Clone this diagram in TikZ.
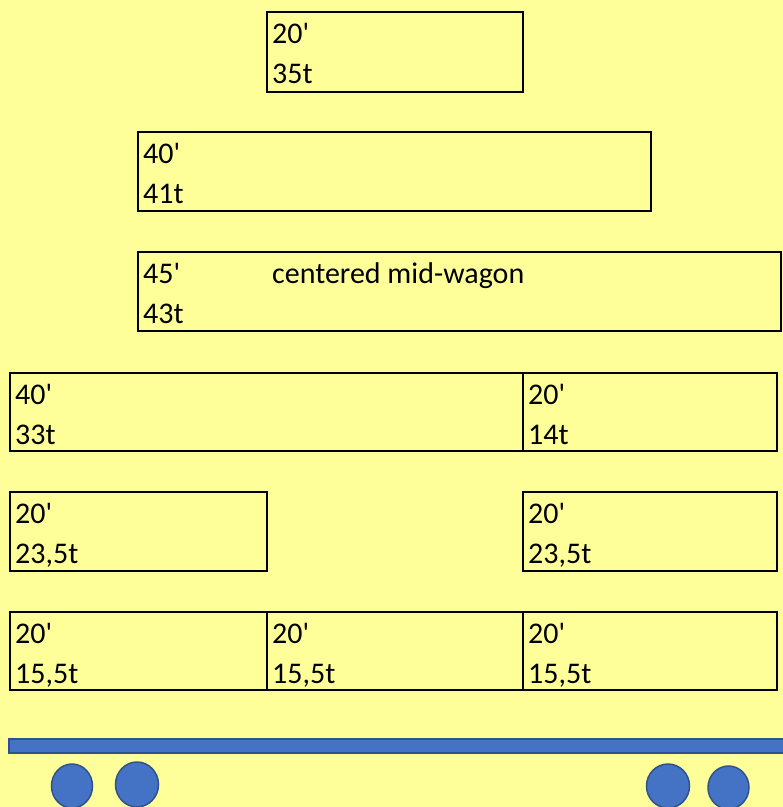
\documentclass[tikz,border=0pt]{standalone}
\usepackage{fontspec}
\setmainfont{Carlito}
\usetikzlibrary{calc,shapes.geometric}
\definecolor{bgyellow}{HTML}{FFFF99}
\definecolor{wblue}{HTML}{4472C4}
\definecolor{wblueedge}{HTML}{2F528F}
\newcommand{\ft}{\textquotesingle}
\begin{document}
\begin{tikzpicture}[x=1pt,y=-1pt,
  box/.style={draw=black, line width=2.2pt, rectangle, inner sep=0pt, outer sep=0pt, anchor=north west},
  lbl/.style={anchor=base west, inner sep=0pt, font=\fontsize{30}{36}\selectfont},
  wheel/.style={draw=wblueedge, fill=wblue, line width=1.5pt, ellipse, inner sep=0pt, outer sep=0pt}]
\fill[bgyellow] (0,0) rectangle (783,807);
\useasboundingbox (0,0) rectangle (783,807);
% boxes
\node[box, minimum width=256pt, minimum height=80pt] (b1) at (267,12) {};
\node[box, minimum width=513pt, minimum height=79pt] (b2) at (138,132) {};
\node[box, minimum width=643pt, minimum height=79pt] (b3) at (138,252) {};
\node[box, minimum width=513pt, minimum height=78pt] (b4a) at (10,373) {};
\node[box, minimum width=254pt, minimum height=78pt] (b4b) at (523,373) {};
\node[box, minimum width=257pt, minimum height=79pt] (b5a) at (10,492) {};
\node[box, minimum width=254pt, minimum height=79pt] (b5b) at (523,492) {};
\node[box, minimum width=257pt, minimum height=78pt] (b6a) at (10,612) {};
\node[box, minimum width=256pt, minimum height=78pt] (b6b) at (267,612) {};
\node[box, minimum width=254pt, minimum height=78pt] (b6c) at (523,612) {};
% labels
\foreach \b/\ta/\tb in {b1/20\ft/35t, b2/40\ft/41t, b3/45\ft/43t, b4a/40\ft/33t, b4b/20\ft/14t,
  b5a/20\ft/{23,5t}, b5b/20\ft/{23,5t}, b6a/20\ft/{15,5t}, b6b/20\ft/{15,5t}, b6c/20\ft/{15,5t}}{
  \node[lbl] (\b-top) at ($(\b.north west)+(5,31)$) {\ta};
  \node[lbl] (\b-bot) at ($(\b.north west)+(5,71)$) {\tb};
}
\node[lbl] (mid) at ($(b3.north west)+(134,31)$) {centered mid-wagon};
% wagon
\node[draw=wblueedge, fill=wblue, line width=1.5pt, rectangle, inner sep=0pt, anchor=north west,
  minimum width=790pt, minimum height=14pt] (bar) at (8,738) {};
\node[wheel, minimum width=41pt, minimum height=44pt] (w1) at (72,786) {};
\node[wheel, minimum width=43pt, minimum height=45pt] (w2) at (137,784.5) {};
\node[wheel, minimum width=43pt, minimum height=44pt] (w3) at (668,786) {};
\node[wheel, minimum width=41pt, minimum height=43pt] (w4) at (728.5,787.5) {};
\end{tikzpicture}
\end{document}
